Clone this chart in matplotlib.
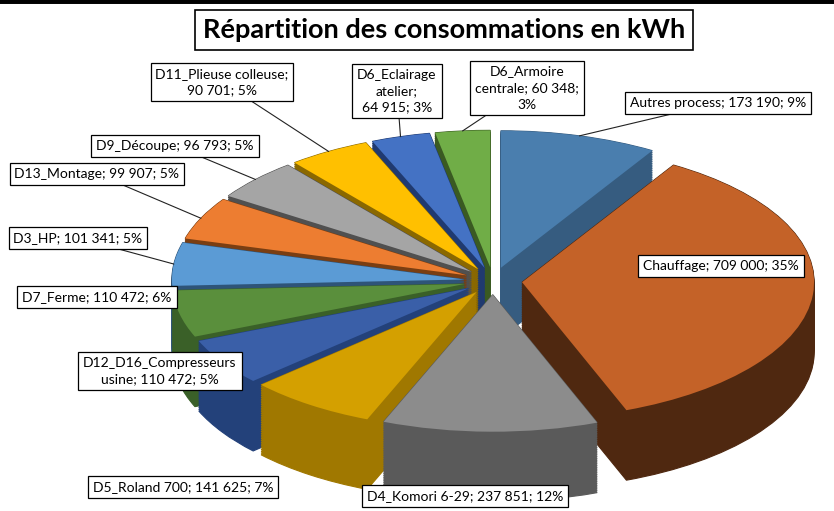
import textwrap
import numpy as np
import matplotlib
matplotlib.use("Agg")
import matplotlib.pyplot as plt
from matplotlib.lines import Line2D

plt.rcParams['font.family'] = ['Lato', 'DejaVu Sans']

# ---------------- data ----------------
title = "Répartition des consommations en kWh"
categories = ["Autres process", "Chauffage", "D4_Komori 6-29", "D5_Roland 700",
              "D12_D16_Compresseurs usine", "D7_Ferme", "D3_HP", "D13_Montage",
              "D9_Découpe", "D11_Plieuse colleuse", "D6_Eclairage atelier",
              "D6_Armoire centrale"]
values = [173190, 709000, 237851, 141625, 110472, 110472, 101341, 99907,
          96793, 90701, 64915, 60348]
percents = ["9%", "35%", "12%", "7%", "5%", "6%", "5%", "5%", "5%", "5%", "3%", "3%"]

# ---------------- style ----------------
top_colors = ["#4A7EAE", "#C46228", "#8C8C8C", "#D4A000", "#3A5FA8", "#5A8F3C",
              "#5B9BD5", "#ED7D31", "#A5A5A5", "#FFC000", "#4472C4", "#70AD47"]
side_colors = ["#365C80", "#4F2810", "#5A5A5A", "#A07800", "#23417A", "#3A6028",
               "#2E5478", "#7A3E12", "#505050", "#8A6800", "#203A70", "#3A5A22"]

W, H = 834, 511
cx, cy, Rx, Ry, depth_px = 493, 281, 292, 137, 70
explode_frac = 0.1
n_layers = 40

# label layout: (center x px, center y px from top, wrap width, leader line)
label_layout = [
    (718, 103, None, True),
    (721, 266, None, False),
    (465, 496, None, False),
    (183, 487, None, False),
    (160, 371, 20, False),
    (97, 297, None, False),
    (78, 238, None, True),
    (97, 174, None, True),
    (175, 146, None, True),
    (222, 82, 21, True),
    (397, 91, 10, True),
    (527, 88, 17, True),
]

fig = plt.figure(figsize=(W / 100, H / 100), dpi=100)
ax = fig.add_axes([0, 0, 1, 1])

vals = np.array(values, dtype=float)
frac = vals / vals.sum()
start = np.cumsum(frac) - frac
mid_deg = (start + frac / 2) * 360.0          # clockwise from 12 o'clock
back_key = np.cos(np.radians(mid_deg))         # larger = further back
rank = np.argsort(np.argsort(-back_key))       # 0 = back-most
explode = [explode_frac] * len(values)

offsets = np.linspace(-depth_px / Ry, 0, n_layers)
block = n_layers + 3
for k, off in enumerate(offsets):
    wedges, _ = ax.pie(values, explode=explode, colors=side_colors, startangle=90,
                       counterclock=False, center=(0, off), radius=1,
                       wedgeprops=dict(linewidth=0.8))
    for i, w in enumerate(wedges):
        w.set_edgecolor(side_colors[i])
        w.set_zorder(2 + rank[i] * block + k)

wedges, _ = ax.pie(values, explode=explode, colors=top_colors, startangle=90,
                   counterclock=False, center=(0, 0), radius=1,
                   wedgeprops=dict(linewidth=0))
for i, w in enumerate(wedges):
    w.set_zorder(2 + rank[i] * block + n_layers + 1)

ax.set_aspect('auto')
ax.set_xlim(-cx / Rx, (W - cx) / Rx)
ax.set_ylim(-(H - cy) / Ry, cy / Ry)
ax.axis('off')

# ---------------- labels ----------------
for i, (cat, v, p) in enumerate(zip(categories, values, percents)):
    txt = f"{cat}; {v:,}; {p}".replace(",", " ")
    lx, ly, wrap, leader = label_layout[i]
    if wrap:
        txt = "\n".join(textwrap.wrap(txt, width=wrap, break_long_words=False))
    th = np.radians(mid_deg[i])
    anchor = ((1 + explode_frac) * np.sin(th), (1 + explode_frac) * np.cos(th))
    ax.annotate(txt, xy=anchor, xycoords='data',
                xytext=(lx, H - ly), textcoords='figure pixels',
                ha='center', va='center', multialignment='center',
                fontsize=10, color='black', zorder=2000, linespacing=1.45,
                bbox=dict(boxstyle='square,pad=0.35', fc='white', ec='black', lw=0.9),
                arrowprops=(dict(arrowstyle='-', color='#222222', lw=0.8,
                                 shrinkA=0, shrinkB=0) if leader else None))

fig.text(444 / W, 1 - 30 / H, title, ha='center', va='center', fontsize=19.5,
         fontweight='bold', color='black',
         bbox=dict(boxstyle='square,pad=0.3', fc='white', ec='black', lw=1.2))

fig.add_artist(Line2D([0, 1], [1, 1], transform=fig.transFigure, color='black', lw=5))

fig.savefig("out.png", dpi=100)
